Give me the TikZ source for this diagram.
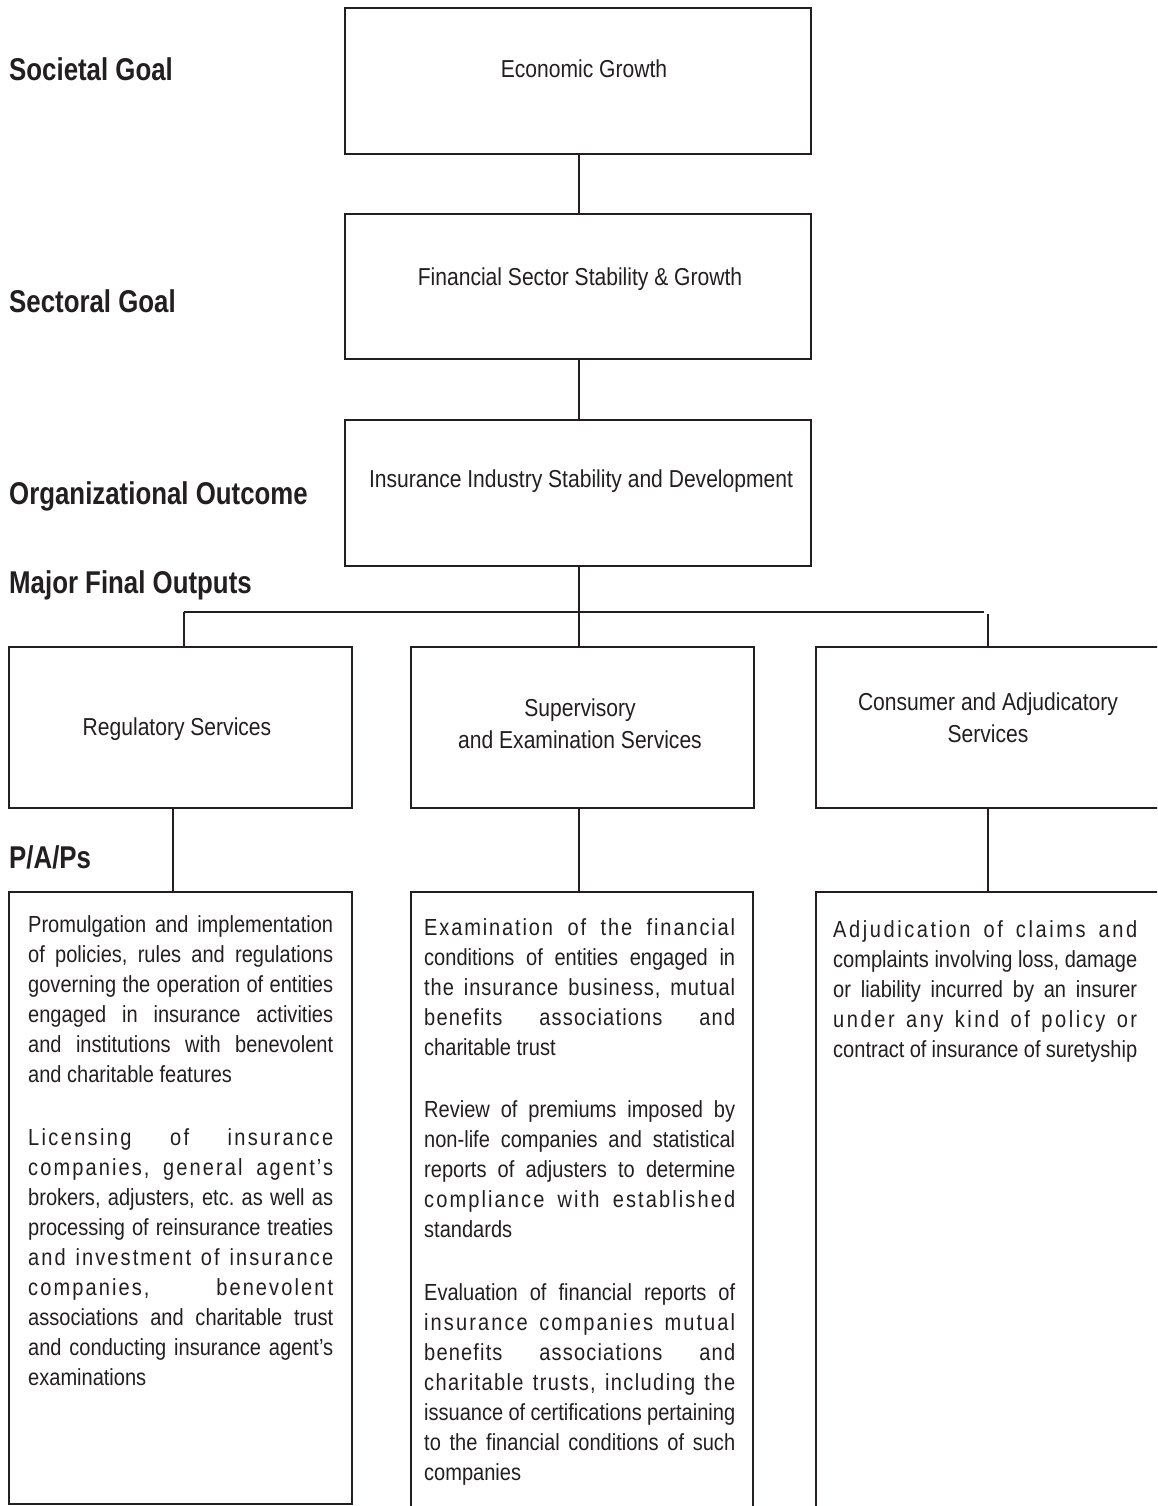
\documentclass[tikz,border=0pt]{standalone}
\usepackage{fontspec}
\newfontfamily\bodyf{Liberation Sans}[FakeStretch=0.86]
\newfontfamily\labf{Liberation Sans}[FakeStretch=0.82]
\definecolor{ink}{HTML}{231F20}
\newcommand\jl[1]{\hbox to \hsize{#1}}
\newcommand\lsl[2]{\hbox to \hsize{\addfontfeature{LetterSpace=#1}#2}}
\newcommand\lastl[1]{\hbox{#1}}
\newcommand\pblock[2]{\parbox[t]{#1}{\frenchspacing\baselineskip=30pt\relax #2}}
\tikzset{
  box/.style={draw=ink, line width=1.8pt, rectangle, inner sep=0pt, outer sep=0pt, anchor=north west},
  conn/.style={draw=ink, line width=1.8pt},
  lab/.style={anchor=base west, inner sep=0pt, font=\labf\bfseries\fontsize{31.5}{36}\selectfont, text=ink},
  btxt/.style={anchor=base, inner sep=0pt, font=\bodyf\fontsize{24.5}{32}\selectfont, text=ink},
  ptxt/.style={anchor=base west, inner sep=0pt, font=\bodyf\fontsize{23.3}{30}\selectfont, text=ink},
}
\begin{document}
\begin{tikzpicture}[x=1pt,y=-1pt]
\clip (0,0) rectangle (1157,1506);
\fill[white] (0,0) rectangle (1157,1506);

% level boxes
\node[box, minimum width=466pt, minimum height=146pt] (b1) at (345,8) {};
\node[box, minimum width=466pt, minimum height=145pt] (b2) at (345,214) {};
\node[box, minimum width=466pt, minimum height=146pt] (b3) at (345,420) {};
\node[box, minimum width=343pt, minimum height=161pt] (ml) at (9,647) {};
\node[box, minimum width=343pt, minimum height=161pt] (mm) at (411,647) {};
\node[box, minimum width=360pt, minimum height=161pt] (mr) at (816,647) {};
\node[box, minimum width=343pt, minimum height=612pt] (pl) at (9,892) {};
\node[box, minimum width=342pt, minimum height=640pt] (pm) at (411,892) {};
\node[box, minimum width=360pt, minimum height=640pt] (pr) at (816,892) {};

% connectors
\coordinate (jl) at (184,612);
\coordinate (jr) at (984,612);
\coordinate (jr2) at (988,614);
\draw[conn] (b1.south -| 579,0) -- (b2.north -| 579,0);
\draw[conn] (b2.south -| 579,0) -- (b3.north -| 579,0);
\draw[conn] (b3.south -| 579,0) -- (mm.north -| 579,0);
\draw[conn] (jl) -- (jr);
\draw[conn] (jl) -- (ml.north -| jl);
\draw[conn] (jr2) -- (mr.north -| jr2);
\draw[conn] (ml.south -| 173,0) -- (pl.north -| 173,0);
\draw[conn] (mm.south -| 579,0) -- (pm.north -| 579,0);
\draw[conn] (mr.south -| 988,0) -- (pr.north -| 988,0);

% row labels
\node[lab] (l1) at (9,81) {Societal Goal};
\node[lab] (l2) at (9,312) {Sectoral Goal};
\node[lab] (l3) at (9,504) {Organizational Outcome};
\node[lab] (l4) at (9,593) {Major Final Outputs};
\node[lab] (l5) at (9,868) {P/A/Ps};

% box texts
\node[btxt] (t1) at (584,78) {Economic Growth};
\node[btxt] (t2) at (580,285) {Financial Sector Stability \& Growth};
\node[btxt] (t3) at (581,487) {Insurance Industry Stability and Development};
\node[btxt] (t4) at (177,735) {Regulatory Services};
\node[btxt] (t5a) at (580,716) {Supervisory};
\node[btxt] (t5b) at (580,748) {and Examination Services};
\node[btxt] (t6a) at (988,710) {Consumer and Adjudicatory};
\node[btxt] (t6b) at (988,742) {Services};

% P/A/P texts
\node[ptxt] (p1) at (28,932) {\pblock{305pt}{%
\jl{Promulgation and implementation}
\jl{of policies, rules and regulations}
\jl{governing the operation of entities}
\jl{engaged in insurance activities}
\jl{and institutions with benevolent}
\lastl{and charitable features}}};
\node[ptxt] (p2) at (28,1145) {\pblock{305pt}{%
\lsl{10}{Licensing of insurance}
\lsl{9}{companies, general agent’s}
\jl{brokers, adjusters, etc. as well as}
\jl{processing of reinsurance treaties}
\lsl{9}{and investment of insurance}
\lsl{9}{companies, benevolent}
\jl{associations and charitable trust}
\jl{and conducting insurance agent’s}
\lastl{examinations}}};

\node[ptxt] (p3) at (424,935) {\pblock{311pt}{%
\lsl{8}{Examination of the financial}
\jl{conditions of entities engaged in}
\lsl{4}{the insurance business, mutual}
\lsl{5}{benefits associations and}
\lastl{charitable trust}}};
\node[ptxt] (p4) at (424,1117) {\pblock{311pt}{%
\jl{Review of premiums imposed by}
\jl{non-life companies and statistical}
\jl{reports of adjusters to determine}
\lsl{9}{compliance with established}
\lastl{standards}}};
\node[ptxt] (p5) at (424,1300) {\pblock{311pt}{%
\jl{Evaluation of financial reports of}
\lsl{9}{insurance companies mutual}
\lsl{5}{benefits associations and}
\lsl{6}{charitable trusts, including the}
\jl{issuance of certifications pertaining}
\jl{to the financial conditions of such}
\lastl{companies}}};

\node[ptxt] (p6) at (833,937) {\pblock{304pt}{%
\lsl{11}{Adjudication of claims and}
\jl{complaints involving loss, damage}
\jl{or liability incurred by an insurer}
\lsl{11}{under any kind of policy or}
\jl{contract of insurance of suretyship}}};
\end{tikzpicture}
\end{document}
